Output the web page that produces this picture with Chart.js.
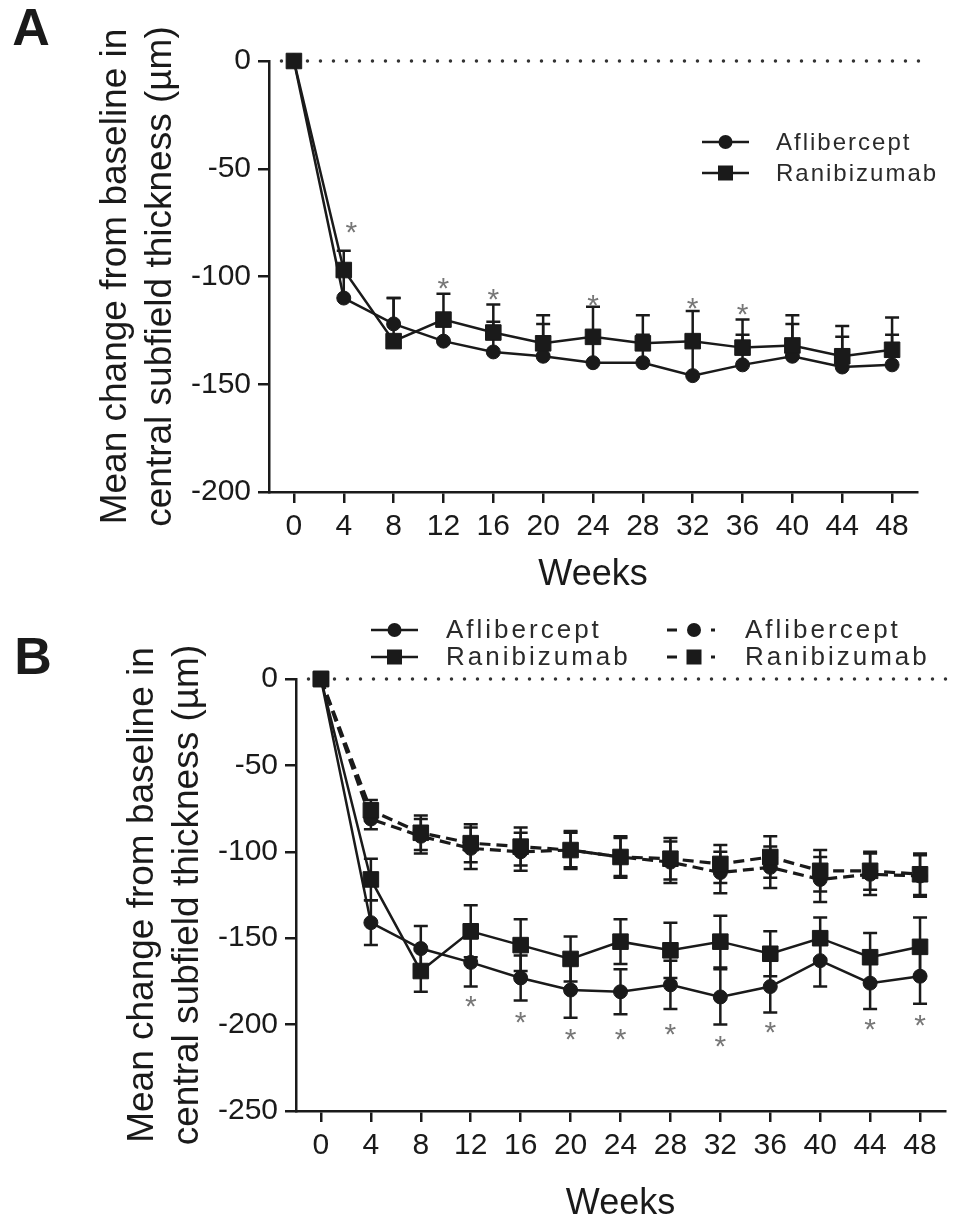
<!DOCTYPE html>
<html>
<head>
<meta charset="utf-8">
<script src="https://cdn.jsdelivr.net/npm/chart.js@4.4.1/dist/chart.umd.min.js"></script>
<style>
  html, body { margin: 0; padding: 0; background: #fff; }
  #wrap { position: relative; width: 969px; height: 1230px; }
  canvas { position: absolute; left: 0; }
  #chartA { top: 0; }
  #chartB { top: 610px; }
</style>
</head>
<body>
<div id="wrap">
  <canvas id="chartA" width="969" height="610"></canvas>
  <canvas id="chartB" width="969" height="620"></canvas>
</div>
<script>
const FONT = "'Liberation Sans', Arial, Helvetica, sans-serif";
const INK = '#1a1a1a';

const weeks = [0, 4, 8, 12, 16, 20, 24, 28, 32, 36, 40, 44, 48];
const yTitle = ['Mean change from baseline in', 'central subfield thickness (µm)'];

// panel A
const aflibA     = [0, -110, -122, -130, -135, -137, -140, -140, -146, -141, -137, -142, -141];
const aflibA_err = [0, 12, 12, 12, 14, 15, 14, 13, 15, 14, 15, 14, 14];
const raniA      = [0, -97, -130, -120, -126, -131, -128, -131, -130, -133, -132, -137, -134];
const raniA_err  = [0, 9, 20, 12, 13, 13, 14, 13, 14, 13, 14, 14, 15];
const starA_x = [4.6, 12, 16, 24, 32, 36];
const starA_y = [-76, -102, -107, -110, -111, -114];

// panel B, solid lines
const aflibB     = [0, -141, -156, -164, -173, -180, -181, -177, -184, -178, -163, -176, -172];
const aflibB_err = [0, 13, 13, 14, 13, 16, 13, 14, 16, 15, 15, 15, 16];
const raniB      = [0, -116, -169, -146, -154, -162, -152, -157, -152, -159, -150, -161, -155];
const raniB_err  = [0, 12, 12, 15, 15, 13, 13, 16, 15, 13, 12, 14, 17];
// panel B, dashed lines
const aflibB2     = [0, -81, -91, -98, -100, -99, -103, -106, -112, -109, -116, -113, -114];
const aflibB2_err = [0, 6, 10, 12, 11, 11, 12, 12, 12, 12, 13, 12, 12];
const raniB2      = [0, -76, -89, -95, -97, -99, -103, -104, -107, -103, -111, -111, -113];
const raniB2_err  = [0, 6, 10, 11, 11, 10, 11, 12, 11, 12, 12, 11, 12];
const starB_x = [12, 16, 20, 24, 28, 32, 36, 44, 48];
const starB_y = [-185, -194, -204, -204, -201, -208, -200, -198, -196];

function toPoints(ys) {
  return weeks.map((w, i) => ({ x: w, y: ys[i] }));
}

// dotted line at zero
function zeroLine() {
  return {
    data: [{ x: -1, y: 0 }, { x: 50.3, y: 0 }],
    borderColor: '#333', borderWidth: 3.5, borderDash: [0, 13], borderCapStyle: 'round',
    pointRadius: 0, clip: false, order: 10
  };
}

function series(ys, errs, style, dashed, order) {
  return {
    data: toPoints(ys),
    errors: errs,
    borderColor: INK, borderWidth: dashed ? 3.2 : 2.5,
    borderDash: dashed ? [11, 6] : [],
    pointStyle: style,
    pointRadius: style == 'rect' ? 11 : 7,
    pointBackgroundColor: INK, pointBorderColor: INK, pointBorderWidth: 1,
    tension: 0, clip: false, order: order
  };
}

// error bars, drawn under the lines and markers
const errorBars = {
  id: 'errorBars',
  beforeDatasetsDraw(chart, args, opts) {
    const ctx = chart.ctx;
    const y = chart.scales.y;
    ctx.save();
    ctx.strokeStyle = INK;
    ctx.lineWidth = 2.5;
    ctx.setLineDash([]);
    chart.data.datasets.forEach((ds, i) => {
      if (!ds.errors) return;
      const meta = chart.getDatasetMeta(i);
      meta.data.forEach((pt, j) => {
        const e = ds.errors[j];
        if (!e) return;
        const v = ds.data[j].y;
        const top = y.getPixelForValue(v + e);
        const bot = opts.upOnly ? pt.y : y.getPixelForValue(v - e);
        ctx.beginPath();
        ctx.moveTo(pt.x, top); ctx.lineTo(pt.x, bot);
        ctx.moveTo(pt.x - 7, top); ctx.lineTo(pt.x + 7, top);
        if (!opts.upOnly) { ctx.moveTo(pt.x - 7, bot); ctx.lineTo(pt.x + 7, bot); }
        ctx.stroke();
      });
    });
    ctx.restore();
  }
};

// significance asterisks
const stars = {
  id: 'stars',
  afterDatasetsDraw(chart, args, opts) {
    const ctx = chart.ctx;
    ctx.save();
    ctx.fillStyle = '#777';
    ctx.font = '30px ' + FONT;
    ctx.textAlign = 'center';
    ctx.textBaseline = 'alphabetic';
    opts.x.forEach((xv, i) => {
      const px = chart.scales.x.getPixelForValue(xv);
      const py = chart.scales.y.getPixelForValue(opts.y[i]);
      ctx.fillText('*', px, py + 0.58 * 30);
    });
    ctx.restore();
  }
};

// legend with line + marker, and the panel letter
const extras = {
  id: 'extras',
  afterDraw(chart, args, opts) {
    const ctx = chart.ctx;
    ctx.save();
    ctx.fillStyle = INK;
    ctx.font = 'bold 52px ' + FONT;
    ctx.textAlign = 'center';
    ctx.textBaseline = 'middle';
    ctx.fillText(opts.letter, opts.letterX, opts.letterY);

    opts.items.forEach(it => {
      ctx.strokeStyle = INK;
      ctx.fillStyle = INK;
      ctx.lineWidth = it.dashed ? 3 : 2.5;
      ctx.beginPath();
      if (it.dashed) {
        ctx.moveTo(it.x, it.y); ctx.lineTo(it.x + 10, it.y);
        ctx.moveTo(it.x + 44, it.y); ctx.lineTo(it.x + 48, it.y);
      } else {
        ctx.moveTo(it.x, it.y); ctx.lineTo(it.x + 47, it.y);
      }
      ctx.stroke();
      const mx = it.x + (it.dashed ? 27 : 23.5);
      if (it.style == 'rect') {
        ctx.fillRect(mx - 7.5, it.y - 7.5, 15, 15);
      } else {
        ctx.beginPath(); ctx.arc(mx, it.y, 7, 0, Math.PI * 2); ctx.fill();
      }
      ctx.fillStyle = '#2a2a2a';
      ctx.font = opts.fontSize + 'px ' + FONT;
      ctx.letterSpacing = opts.spacing + 'px';
      ctx.textAlign = 'left';
      ctx.fillText(it.label, it.textX, it.y + 1);
      ctx.letterSpacing = '0px';
    });
    ctx.restore();
  }
};

function axes(yMin, yWidth, xHeight, xTitlePad, yTitlePad) {
  const grid = { drawOnChartArea: false, drawTicks: true, tickLength: 11, lineWidth: 2.5, color: INK };
  const border = { display: true, width: 2.5, color: INK };
  return {
    x: {
      type: 'linear', min: -2, max: 50,
      afterBuildTicks: s => { s.ticks = weeks.map(v => ({ value: v })); },
      afterFit: s => { s.height = xHeight; },
      ticks: { font: { family: FONT, size: 30 }, color: INK, padding: 6, autoSkip: false, maxRotation: 0 },
      grid: grid, border: border,
      title: { display: true, text: 'Weeks', color: INK, font: { family: FONT, size: 36 }, padding: { top: 0, bottom: xTitlePad } }
    },
    y: {
      min: yMin, max: 0,
      afterFit: s => { s.width = yWidth; },
      ticks: { stepSize: 50, font: { family: FONT, size: 30 }, color: INK, padding: 7 },
      grid: grid, border: border,
      title: { display: true, text: yTitle, color: INK, font: { family: FONT, size: 37, lineHeight: 1.22 }, padding: { top: yTitlePad, bottom: 0 } }
    }
  };
}

new Chart(document.getElementById('chartA'), {
  type: 'line',
  data: {
    datasets: [
      series(raniA, raniA_err, 'rect', false, 1),
      series(aflibA, aflibA_err, 'circle', false, 2),
      zeroLine()
    ]
  },
  options: {
    responsive: false, animation: false, events: [],
    layout: { padding: { top: 61, right: 52, left: 0, bottom: 0 } },
    scales: axes(-200, 269, 118, 13, 93),
    plugins: {
      legend: { display: false }, tooltip: { enabled: false },
      errorBars: { upOnly: true },
      stars: { x: starA_x, y: starA_y },
      extras: {
        letter: 'A', letterX: 31, letterY: 31, fontSize: 24, spacing: 2,
        items: [
          { label: 'Aflibercept', style: 'circle', dashed: false, x: 702, y: 142, textX: 776 },
          { label: 'Ranibizumab', style: 'rect', dashed: false, x: 702, y: 173, textX: 776 }
        ]
      }
    }
  },
  plugins: [errorBars, stars, extras]
});

new Chart(document.getElementById('chartB'), {
  type: 'line',
  data: {
    datasets: [
      series(raniB, raniB_err, 'rect', false, 1),
      series(aflibB, aflibB_err, 'circle', false, 2),
      series(raniB2, raniB2_err, 'rect', true, 3),
      series(aflibB2, aflibB2_err, 'circle', true, 4),
      zeroLine()
    ]
  },
  options: {
    responsive: false, animation: false, events: [],
    layout: { padding: { top: 69, right: 24, left: 0, bottom: 0 } },
    scales: axes(-250, 296, 119, 4, 120),
    plugins: {
      legend: { display: false }, tooltip: { enabled: false },
      errorBars: { upOnly: false },
      stars: { x: starB_x, y: starB_y },
      extras: {
        letter: 'B', letterX: 33, letterY: 50, fontSize: 26, spacing: 3,
        items: [
          { label: 'Aflibercept', style: 'circle', dashed: false, x: 371, y: 20, textX: 446 },
          { label: 'Ranibizumab', style: 'rect', dashed: false, x: 371, y: 47, textX: 446 },
          { label: 'Aflibercept', style: 'circle', dashed: true, x: 667, y: 20, textX: 745 },
          { label: 'Ranibizumab', style: 'rect', dashed: true, x: 667, y: 47, textX: 745 }
        ]
      }
    }
  },
  plugins: [errorBars, stars, extras]
});
</script>
</body>
</html>
